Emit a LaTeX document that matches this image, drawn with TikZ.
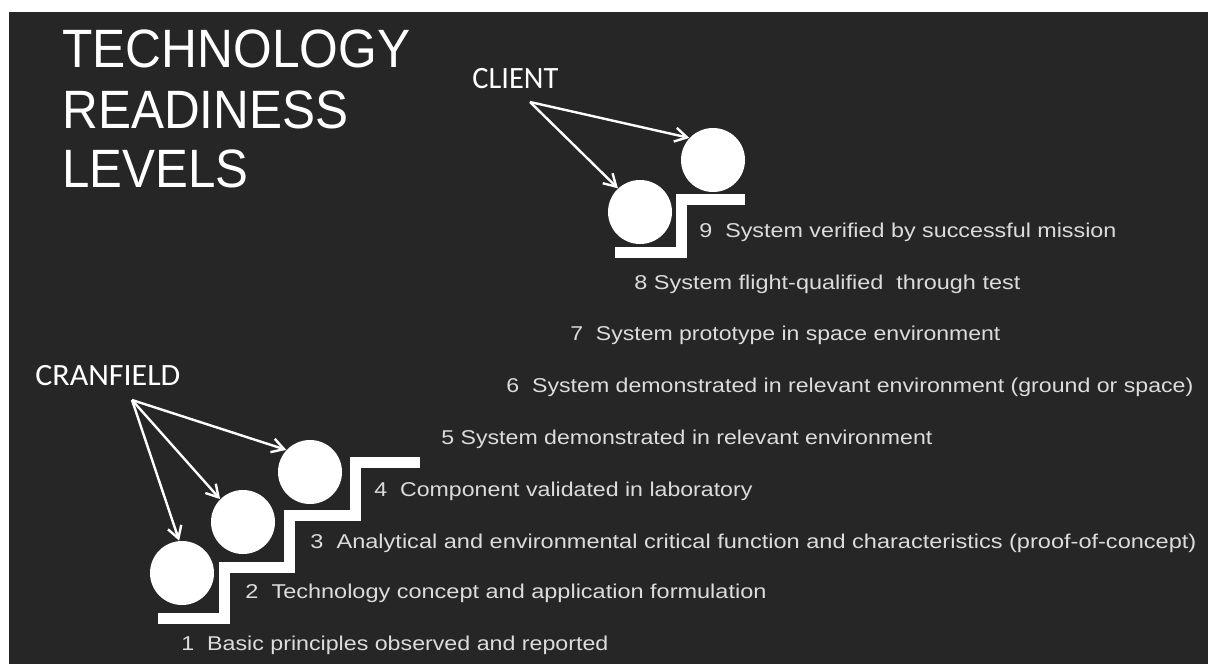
\documentclass[tikz,border=0pt]{standalone}
\usepackage{fontspec}
\usepackage{graphicx}
\usepackage{xcolor}
\setmainfont{Liberation Sans}
\newfontfamily\trlCalibri{Carlito}
\usetikzlibrary{arrows.meta}
\definecolor{trlBack}{HTML}{262626}
\definecolor{trlGrey}{HTML}{DCDCDC}
\newcommand{\trlFit}[2]{\resizebox{#1pt}{\height}{#2}}
\tikzset{
  trlTitle/.style={anchor=base west, inner sep=0pt, text=white, font=\fontsize{27}{30}\selectfont},
  trlWho/.style={anchor=base west, inner sep=0pt, text=white, font=\trlCalibri\fontsize{15.5}{18}\selectfont},
  trlLevel/.style={anchor=base west, inner sep=0pt, text=trlGrey, font=\fontsize{10}{12}\selectfont},
  trlBall/.style={circle, fill=white, inner sep=0pt, minimum size=32pt},
  trlStair/.style={draw=white, line width=5.5pt, line join=miter},
  trlArrow/.style={draw=white, line width=1.2pt, -{Straight Barb[length=6pt,width=7pt]}}
}

\begin{document}
\begin{tikzpicture}[x=0.5pt,y=-0.5pt]
% frame and dark backdrop
\useasboundingbox (0,0) rectangle (1208,664);
\fill[white] (0,0) rectangle (1208,664);
\fill[trlBack] (9,12) rectangle (1208,664);

% title
\node[trlTitle] (title1) at (62,67) {\trlFit{174}{TECHNOLOGY}};
\node[trlTitle] (title2) at (62,128) {\trlFit{143}{READINESS}};
\node[trlTitle] (title3) at (62,187) {\trlFit{93}{LEVELS}};

% who does which levels
\node[trlWho] (client) at (472,88) {\trlFit{43}{CLIENT}};
\node[trlWho] (cranfield) at (35,385) {\trlFit{72.5}{CRANFIELD}};
\coordinate (clientFrom) at (530,102);
\coordinate (cranFrom) at (132,400);

% stairs
\draw[trlStair] (158,618.5) -- (224,618.5) -- (224,567) -- (289.5,567) -- (289.5,515.5)
  -- (355,515.5) -- (355,462) -- (420,462);
\draw[trlStair] (615,252.5) -- (681,252.5) -- (681,199) -- (745,199);

% balls
\node[trlBall] (ball1) at (182,573) {};
\node[trlBall] (ball2) at (243,522) {};
\node[trlBall] (ball3) at (310,472) {};
\node[trlBall] (ball8) at (640,212) {};
\node[trlBall] (ball9) at (713,160) {};

% arrows
\draw[trlArrow] (cranFrom) -- (ball1.95);
\draw[trlArrow] (cranFrom) -- (ball2.135);
\draw[trlArrow] (cranFrom) -- (ball3.137);
\draw[trlArrow] (clientFrom) -- (ball8.133);
\draw[trlArrow] (clientFrom) -- (ball9.137);

% levels
\node[trlLevel] (level1) at (181,650) {\trlFit{213.5}{1~ Basic principles observed and reported}};
\node[trlLevel] (level2) at (245,598) {\trlFit{260.5}{2~ Technology concept and application formulation}};
\node[trlLevel] (level3) at (310,548) {\trlFit{443}{3~ Analytical and environmental critical function and characteristics (proof-of-concept)}};
\node[trlLevel] (level4) at (374,496) {\trlFit{189}{4~ Component validated in laboratory}};
\node[trlLevel] (level5) at (441,444) {\trlFit{245.5}{5 System demonstrated in relevant environment}};
\node[trlLevel] (level6) at (506,392) {\trlFit{343.5}{6~ System demonstrated in relevant environment (ground or space)}};
\node[trlLevel] (level7) at (570,340) {\trlFit{215}{7~ System prototype in space environment}};
\node[trlLevel] (level8) at (634,289) {\trlFit{193}{8 System flight-qualified~ through test}};
\node[trlLevel] (level9) at (699,237) {\trlFit{208.5}{9~ System verified by successful mission}};
\end{tikzpicture}
\end{document}
